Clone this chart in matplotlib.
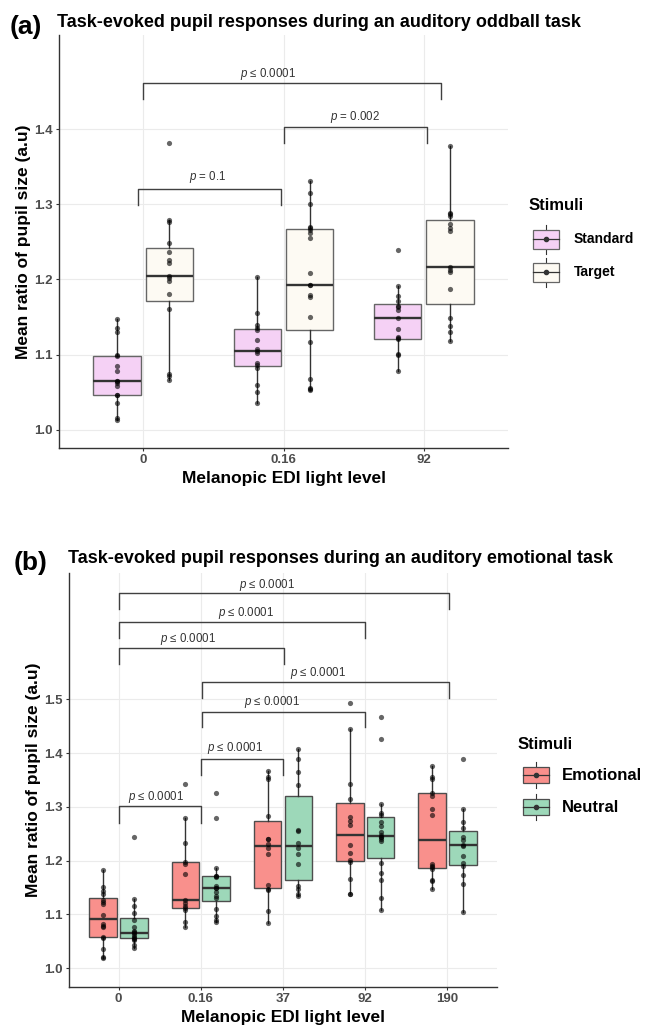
import matplotlib
matplotlib.use("Agg")
import matplotlib.pyplot as plt
import numpy as np
from matplotlib.legend_handler import HandlerBase
from matplotlib.patches import Rectangle, Patch
from matplotlib.lines import Line2D

plt.rcParams['font.family'] = ['Liberation Sans', 'DejaVu Sans']
plt.rcParams['mathtext.fontset'] = 'custom'
plt.rcParams['mathtext.it'] = 'Liberation Sans:italic'
plt.rcParams['mathtext.rm'] = 'Liberation Sans'

# ---------------- data ----------------
levels_a = ["0", "0.16", "92"]
standard_a = [
    [1.013, 1.016, 1.036, 1.046, 1.0466, 1.058, 1.063, 1.065, 1.065, 1.078, 1.0855, 1.098, 1.0997, 1.130, 1.135, 1.148],
    [1.036, 1.051, 1.060, 1.083, 1.086, 1.0895, 1.102, 1.1055, 1.107, 1.120, 1.1326, 1.135, 1.139, 1.155, 1.203],
    [1.078, 1.099, 1.101, 1.1206, 1.122, 1.123, 1.134, 1.149, 1.160, 1.163, 1.165, 1.171, 1.1786, 1.192, 1.239],
]
target_a = [
    [1.0665, 1.072, 1.075, 1.161, 1.181, 1.198, 1.2026, 1.204, 1.2225, 1.226, 1.236, 1.248, 1.2766, 1.279, 1.381],
    [1.053, 1.055, 1.056, 1.068, 1.117, 1.150, 1.177, 1.179, 1.193, 1.193, 1.209, 1.255, 1.262, 1.266, 1.268,
     1.270, 1.300, 1.315, 1.331],
    [1.118, 1.130, 1.138, 1.149, 1.187, 1.2106, 1.213, 1.216, 1.2646, 1.269, 1.2735, 1.285, 1.2868, 1.289, 1.378],
]
series_a = ["Standard", "Target"]
pvals_a = ["$p$ = 0.1", "$p$ = 0.002", "$p$ \u2264 0.0001"]

levels_b = ["0", "0.16", "37", "92", "190"]
emotional_b = [
    [1.019, 1.0205, 1.035, 1.056, 1.059, 1.076, 1.079, 1.083, 1.0985, 1.1195, 1.124, 1.127, 1.138, 1.1444, 1.1505, 1.1828],
    [1.077, 1.0855, 1.108, 1.1127, 1.1165, 1.121, 1.127, 1.175, 1.1945, 1.198, 1.2335, 1.279, 1.342],
    [1.085, 1.107, 1.1455, 1.147, 1.154, 1.2125, 1.223, 1.2305, 1.240, 1.241, 1.2837, 1.351, 1.356, 1.367],
    [1.1375, 1.1387, 1.1654, 1.198, 1.201, 1.214, 1.229, 1.266, 1.274, 1.282, 1.3147, 1.342, 1.4448, 1.4926],
    [1.147, 1.162, 1.164, 1.1846, 1.189, 1.19, 1.1933, 1.285, 1.296, 1.320, 1.3265, 1.351, 1.355, 1.3766],
]
neutral_b = [
    [1.037, 1.043, 1.052, 1.055, 1.056, 1.059, 1.062, 1.065, 1.067, 1.070, 1.0775, 1.090, 1.102, 1.116, 1.128, 1.2447],
    [1.0855, 1.090, 1.098, 1.110, 1.131, 1.135, 1.141, 1.149, 1.149, 1.153, 1.170, 1.172, 1.172, 1.187, 1.279, 1.325],
    [1.1345, 1.1375, 1.147, 1.1535, 1.194, 1.213, 1.224, 1.232, 1.256, 1.257, 1.340, 1.3643, 1.3885, 1.408],
    [1.108, 1.131, 1.164, 1.178, 1.195, 1.237, 1.240, 1.2446, 1.2446, 1.248, 1.254, 1.265, 1.2725, 1.284, 1.288,
     1.3054, 1.4257, 1.467],
    [1.105, 1.1567, 1.1734, 1.1907, 1.1963, 1.2093, 1.228, 1.2286, 1.2385, 1.2435, 1.260, 1.2714, 1.296, 1.3896],
]
series_b = ["Emotional", "Neutral"]
pvals_b = ["$p$ \u2264 0.0001"] * 7

# bracket geometry (x1, x2, y_top, y_leg, text_x, text_y)
brackets_a = [(0.96, 1.98, 1.320, 1.299, 1.46, 1.336),
              (2.00, 3.02, 1.403, 1.382, 2.51, 1.416),
              (1.00, 3.12, 1.461, 1.440, 1.89, 1.473)]
brackets_b = [(1.00, 5.02, 1.697, 1.667, 2.80, 1.712),
              (1.00, 4.00, 1.644, 1.6145, 2.55, 1.661),
              (1.00, 3.01, 1.596, 1.566, 1.84, 1.6115),
              (2.02, 5.02, 1.5316, 1.503, 3.42, 1.548),
              (2.01, 4.00, 1.477, 1.448, 2.87, 1.494),
              (2.00, 3.00, 1.3896, 1.359, 2.42, 1.410),
              (1.00, 2.00, 1.3017, 1.2707, 1.45, 1.319)]

colors_a = ["#F5D1F5", "#FDFAF3"]
colors_b = ["#F9908C", "#9DD8B9"]

W, H = 657, 1027
fig = plt.figure(figsize=(W / 100, H / 100), dpi=100)


def px_axes(l, t, r, b):
    return fig.add_axes([l / W, 1 - b / H, (r - l) / W, (b - t) / H])


axA = px_axes(59, 35, 508, 448)
axB = px_axes(69.3, 573.3, 496.7, 986.7)

GRID = "#EBEBEB"
DARK = "#333333"
TICKC = "#4D4D4D"


def draw_panel(ax, levels, series, colors, edge, ylim, yticks):
    n = len(levels)
    offsets = [-0.1875, 0.1875]
    for s, (data, col) in enumerate(zip(series, colors)):
        pos = [i + 1 + offsets[s] for i in range(n)]
        ax.boxplot(data, positions=pos, widths=0.3375, patch_artist=True,
                   showfliers=False, showcaps=False, whis=1.5, manage_ticks=False,
                   boxprops=dict(facecolor=col, edgecolor=edge, linewidth=1.0),
                   medianprops=dict(color=DARK, linewidth=1.7),
                   whiskerprops=dict(color=DARK, linewidth=1.0), zorder=2)
        for p, vals in zip(pos, data):
            ax.scatter(np.full(len(vals), p), vals, s=14, color="black",
                       alpha=0.6, linewidths=0, zorder=3)
    ax.set_xlim(0.4, n + 0.6)
    ax.set_ylim(*ylim)
    ax.set_xticks(range(1, n + 1))
    ax.set_xticklabels(levels)
    ax.set_yticks(yticks)
    ax.set_yticklabels([f"{v:.1f}" for v in yticks])
    ax.grid(True, color=GRID, linewidth=0.8)
    ax.set_axisbelow(True)
    for sp in ["top", "right"]:
        ax.spines[sp].set_visible(False)
    for sp in ["left", "bottom"]:
        ax.spines[sp].set_color(DARK)
        ax.spines[sp].set_linewidth(1.0)
    ax.tick_params(length=2.5, width=0.8, color=DARK, labelsize=9.5,
                   labelcolor=TICKC, pad=2)
    for lab in ax.get_xticklabels() + ax.get_yticklabels():
        lab.set_fontweight("bold")


def draw_brackets(ax, brackets, texts):
    for (x1, x2, yt, yl, tx, ty), t in zip(brackets, texts):
        ax.plot([x1, x1, x2, x2], [yl, yt, yt, yl], color="#404040", lw=1.0,
                zorder=4, clip_on=False)
        ax.text(tx, ty, t, ha="center", va="center", fontsize=8.3,
                color="#333333", zorder=4)


draw_panel(axA, levels_a, [standard_a, target_a], colors_a, "#666666",
           (0.976, 1.525), [1.0, 1.1, 1.2, 1.3, 1.4])
draw_brackets(axA, brackets_a, pvals_a)
draw_panel(axB, levels_b, [emotional_b, neutral_b], colors_b, "#4D4D4D",
           (0.9658, 1.734), [1.0, 1.1, 1.2, 1.3, 1.4, 1.5])
draw_brackets(axB, brackets_b, pvals_b)

# axis labels
for ax, xl, yl in [(axA, -0.075, -0.079), (axB, -0.0733, -0.0826)]:
    ax.set_xlabel("Melanopic EDI light level", fontsize=12.5, fontweight="bold")
    ax.set_ylabel("Mean ratio of pupil size (a.u)", fontsize=12.5, fontweight="bold")
    ax.xaxis.set_label_coords(0.5, xl)
    ax.yaxis.set_label_coords(yl, 0.5)
    ax.xaxis.label.set_va("center")
    ax.yaxis.label.set_va("center")

# titles and panel letters
fig.text(57 / W, 1 - 27 / H, "Task-evoked pupil responses during an auditory oddball task",
         fontsize=13, fontweight="bold", ha="left", va="baseline")
fig.text(10 / W, 1 - 34 / H, "(a)", fontsize=19, fontweight="bold", ha="left", va="baseline")
fig.text(68 / W, 1 - 563 / H, "Task-evoked pupil responses during an auditory emotional task",
         fontsize=13, fontweight="bold", ha="left", va="baseline")
fig.text(14 / W, 1 - 570 / H, "(b)", fontsize=19, fontweight="bold", ha="left", va="baseline")


class BoxKey(HandlerBase):
    def __init__(self, frac, edge):
        super().__init__()
        self.frac = frac
        self.edge = edge

    def create_artists(self, legend, orig_handle, xdescent, ydescent, width,
                       height, fontsize, trans):
        fc = orig_handle.get_facecolor()
        x0, y0 = -xdescent, -ydescent
        cx, cy = x0 + width / 2, y0 + height / 2
        bh = height * self.frac
        vline = Line2D([cx, cx], [y0, y0 + height], color=DARK, lw=0.8, transform=trans)
        rect = Rectangle((x0, cy - bh / 2), width, bh, facecolor=fc,
                         edgecolor=self.edge, lw=0.9, transform=trans)
        hline = Line2D([x0, x0 + width], [cy, cy], color=DARK, lw=0.9, transform=trans)
        dot = Line2D([cx], [cy], marker="o", ms=3, color=DARK, lw=0, transform=trans)
        return [vline, rect, hline, dot]


# legend titles
fig.text(529 / W, 1 - 210 / H, "Stimuli", fontsize=12, fontweight="bold",
         ha="left", va="baseline")
fig.text(518 / W, 1 - 749 / H, "Stimuli", fontsize=12, fontweight="bold",
         ha="left", va="baseline")

hA = [Patch(facecolor=c) for c in colors_a]
legA = fig.legend(hA, series_a, loc="upper left", bbox_to_anchor=(533 / W, 1 - 224.5 / H),
                  frameon=False, borderpad=0, borderaxespad=0,
                  prop=dict(weight="bold", size=10),
                  handlelength=1.87, handleheight=2.84, handletextpad=1.08,
                  labelspacing=0.286,
                  handler_map={Patch: BoxKey(0.655, "#666666")})

hB = [Patch(facecolor=c) for c in colors_b]
legB = fig.legend(hB, series_b, loc="upper left", bbox_to_anchor=(522.7 / W, 1 - 761.7 / H),
                  frameon=False, borderpad=0, borderaxespad=0,
                  prop=dict(weight="bold", size=12),
                  handlelength=1.6, handleheight=2.08, handletextpad=0.76,
                  labelspacing=0.32,
                  handler_map={Patch: BoxKey(0.6, "#4D4D4D")})

fig.savefig("out.png", dpi=100)
